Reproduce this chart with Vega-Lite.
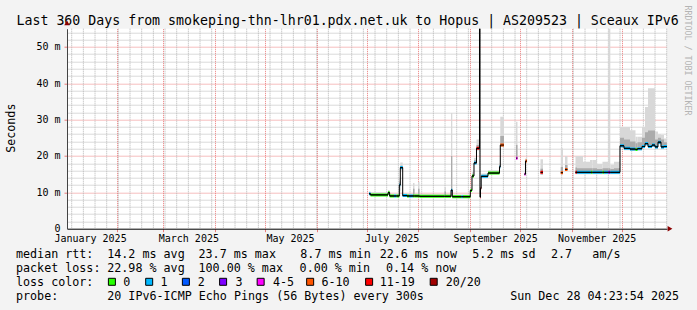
{
  "$schema": "https://vega.github.io/schema/vega-lite/v6.json",
  "width": 600,
  "height": 200,
  "autosize": "none",
  "padding": {"left": 67, "top": 28.7, "right": 30, "bottom": 81.3},
  "background": "#f3f3f3",
  "config": {
    "font": "DejaVu Sans Mono",
    "view": {"fill": "#ffffff", "stroke": null},
    "axis": {"labelFont": "DejaVu Sans Mono", "titleFont": "DejaVu Sans Mono", "labelColor": "#000000", "titleColor": "#000000", "titleFontWeight": "normal"}
  },
  "datasets": {
    "weeks": [
      {"w": "2025-01-05T00:00"}, {"w": "2025-01-12T00:00"}, {"w": "2025-01-19T00:00"}, {"w": "2025-01-26T00:00"},
      {"w": "2025-02-02T00:00"}, {"w": "2025-02-09T00:00"}, {"w": "2025-02-16T00:00"}, {"w": "2025-02-23T00:00"},
      {"w": "2025-03-02T00:00"}, {"w": "2025-03-09T00:00"}, {"w": "2025-03-16T00:00"}, {"w": "2025-03-23T00:00"}, {"w": "2025-03-30T00:00"},
      {"w": "2025-04-06T00:00"}, {"w": "2025-04-13T00:00"}, {"w": "2025-04-20T00:00"}, {"w": "2025-04-27T00:00"},
      {"w": "2025-05-04T00:00"}, {"w": "2025-05-11T00:00"}, {"w": "2025-05-18T00:00"}, {"w": "2025-05-25T00:00"},
      {"w": "2025-06-01T00:00"}, {"w": "2025-06-08T00:00"}, {"w": "2025-06-15T00:00"}, {"w": "2025-06-22T00:00"}, {"w": "2025-06-29T00:00"},
      {"w": "2025-07-06T00:00"}, {"w": "2025-07-13T00:00"}, {"w": "2025-07-20T00:00"}, {"w": "2025-07-27T00:00"},
      {"w": "2025-08-03T00:00"}, {"w": "2025-08-10T00:00"}, {"w": "2025-08-17T00:00"}, {"w": "2025-08-24T00:00"}, {"w": "2025-08-31T00:00"},
      {"w": "2025-09-07T00:00"}, {"w": "2025-09-14T00:00"}, {"w": "2025-09-21T00:00"}, {"w": "2025-09-28T00:00"},
      {"w": "2025-10-05T00:00"}, {"w": "2025-10-12T00:00"}, {"w": "2025-10-19T00:00"}, {"w": "2025-10-26T00:00"},
      {"w": "2025-11-02T00:00"}, {"w": "2025-11-09T00:00"}, {"w": "2025-11-16T00:00"}, {"w": "2025-11-23T00:00"}, {"w": "2025-11-30T00:00"},
      {"w": "2025-12-07T00:00"}, {"w": "2025-12-14T00:00"}, {"w": "2025-12-21T00:00"}, {"w": "2025-12-28T00:00"}
    ],
    "bins": [
      {"t": "2025-07-02T09:00", "t2": "2025-07-03T07:00", "med": 9.6, "lo": 9.2, "mlo": 9.3, "mhi": 9.9, "hi": 10.2, "loss": "1", "seg": "A"},
      {"t": "2025-07-03T07:00", "t2": "2025-07-13T19:00", "med": 9.3, "lo": 9.0, "mlo": 9.1, "mhi": 9.6, "hi": 10.0, "loss": "0", "seg": "A"},
      {"t": "2025-07-13T19:00", "t2": "2025-07-14T18:00", "med": 9.9, "lo": 9.3, "mlo": 9.5, "mhi": 10.3, "hi": 10.6, "loss": "0", "seg": "A"},
      {"t": "2025-07-14T18:00", "t2": "2025-07-17T09:00", "med": 9.0, "lo": 8.8, "mlo": 8.9, "mhi": 9.3, "hi": 9.6, "loss": "0", "seg": "A"},
      {"t": "2025-07-17T09:00", "t2": "2025-07-18T21:00", "med": 9.0, "lo": 8.8, "mlo": 8.9, "mhi": 9.3, "hi": 9.6, "loss": "1", "seg": "A"},
      {"t": "2025-07-18T21:00", "t2": "2025-07-20T13:30", "med": 9.0, "lo": 8.8, "mlo": 8.9, "mhi": 9.3, "hi": 9.6, "loss": "0", "seg": "A"},
      {"t": "2025-07-20T13:30", "t2": "2025-07-21T04:00", "med": 12.0, "lo": 9.0, "mlo": 10.5, "mhi": 13.0, "hi": 14.0, "loss": "1", "seg": "A"},
      {"t": "2025-07-21T04:00", "t2": "2025-07-22T14:30", "med": 16.8, "lo": 16.0, "mlo": 16.4, "mhi": 17.3, "hi": 18.2, "loss": "1", "seg": "A"},
      {"t": "2025-07-22T14:30", "t2": "2025-07-25T04:20", "med": 9.1, "lo": 8.8, "mlo": 8.9, "mhi": 9.4, "hi": 9.8, "loss": "1", "seg": "A"},
      {"t": "2025-07-25T04:20", "t2": "2025-07-26T09:00", "med": 9.0, "lo": 8.7, "mlo": 8.8, "mhi": 9.3, "hi": 9.6, "loss": "0", "seg": "A"},
      {"t": "2025-07-26T09:00", "t2": "2025-07-28T19:00", "med": 9.0, "lo": 8.7, "mlo": 8.8, "mhi": 9.3, "hi": 9.6, "loss": "1", "seg": "A"},
      {"t": "2025-07-28T19:00", "t2": "2025-07-29T16:20", "med": 9.0, "lo": 8.7, "mlo": 8.8, "mhi": 11.0, "hi": 12.6, "loss": "0", "seg": "A"},
      {"t": "2025-07-29T16:20", "t2": "2025-07-31T19:00", "med": 9.0, "lo": 8.7, "mlo": 8.8, "mhi": 9.3, "hi": 9.6, "loss": "0", "seg": "A"},
      {"t": "2025-07-31T19:00", "t2": "2025-08-01T16:20", "med": 9.0, "lo": 8.7, "mlo": 8.8, "mhi": 11.0, "hi": 12.9, "loss": "0", "seg": "A"},
      {"t": "2025-08-01T16:20", "t2": "2025-08-16T16:20", "med": 8.9, "lo": 8.6, "mlo": 8.7, "mhi": 9.2, "hi": 9.5, "loss": "0", "seg": "A"},
      {"t": "2025-08-16T16:20", "t2": "2025-08-17T14:00", "med": 8.9, "lo": 8.6, "mlo": 8.7, "mhi": 10.2, "hi": 11.5, "loss": "0", "seg": "A"},
      {"t": "2025-08-17T14:00", "t2": "2025-08-20T14:00", "med": 8.9, "lo": 8.6, "mlo": 8.7, "mhi": 9.2, "hi": 9.5, "loss": "0", "seg": "A"},
      {"t": "2025-08-20T14:00", "t2": "2025-08-21T08:40", "med": 10.6, "lo": 8.8, "mlo": 8.8, "mhi": 20.0, "hi": 31.8, "loss": "1", "seg": "A"},
      {"t": "2025-08-21T08:40", "t2": "2025-08-26T21:00", "med": 8.8, "lo": 8.5, "mlo": 8.6, "mhi": 9.1, "hi": 9.4, "loss": "0", "seg": "A"},
      {"t": "2025-08-26T21:00", "t2": "2025-08-27T19:00", "med": 8.8, "lo": 8.5, "mlo": 8.6, "mhi": 9.1, "hi": 9.4, "loss": "1", "seg": "A"},
      {"t": "2025-08-27T19:00", "t2": "2025-09-01T04:00", "med": 8.8, "lo": 8.5, "mlo": 8.6, "mhi": 9.1, "hi": 9.4, "loss": "0", "seg": "A"},
      {"t": "2025-09-01T04:00", "t2": "2025-09-02T04:20", "med": 10.5, "lo": 10.0, "mlo": 10.2, "mhi": 10.9, "hi": 11.3, "loss": "0", "seg": "A"},
      {"t": "2025-09-02T04:20", "t2": "2025-09-03T09:00", "med": 14.5, "lo": 14.0, "mlo": 14.2, "mhi": 15.0, "hi": 15.5, "loss": "0", "seg": "A"},
      {"t": "2025-09-03T09:00", "t2": "2025-09-04T21:00", "med": 18.1, "lo": 17.5, "mlo": 17.8, "mhi": 18.8, "hi": 19.5, "loss": "1", "seg": "A"},
      {"t": "2025-09-04T21:00", "t2": "2025-09-06T16:20", "med": 22.1, "lo": 21.5, "mlo": 21.8, "mhi": 23.0, "hi": 24.5, "loss": "11-19", "seg": "A"},
      {"t": "2025-09-06T16:20", "t2": "2025-09-06T23:30", "med": 58, "lo": 8.7, "mlo": 8.7, "mhi": 8.7, "hi": 8.7, "loss": "20/20", "seg": "A"},
      {"t": "2025-09-06T23:30", "t2": "2025-09-07T06:40", "med": 8.7, "lo": 8.5, "mlo": 8.6, "mhi": 8.9, "hi": 9.0, "loss": "11-19", "seg": "A"},
      {"t": "2025-09-07T06:40", "t2": "2025-09-07T16:50", "med": 11.1, "lo": 10.8, "mlo": 10.9, "mhi": 11.4, "hi": 11.6, "loss": "11-19", "seg": "A"},
      {"t": "2025-09-07T16:50", "t2": "2025-09-11T18:40", "med": 14.4, "lo": 14.0, "mlo": 14.2, "mhi": 14.8, "hi": 15.2, "loss": "1", "seg": "A"},
      {"t": "2025-09-11T18:40", "t2": "2025-09-18T16:20", "med": 15.3, "lo": 15.0, "mlo": 15.1, "mhi": 15.7, "hi": 16.1, "loss": "0", "seg": "A"},
      {"t": "2025-09-18T16:20", "t2": "2025-09-19T03:50", "med": 17.0, "lo": 16.5, "mlo": 16.8, "mhi": 17.5, "hi": 18.0, "loss": "1", "seg": "A"},
      {"t": "2025-09-19T03:50", "t2": "2025-09-21T09:00", "med": 23.0, "lo": 22.5, "mlo": 22.6, "mhi": 25.5, "hi": 30.8, "loss": "6-10", "seg": "A"},
      {"t": "2025-09-28T14:00", "t2": "2025-09-29T11:30", "med": 19.4, "lo": 19.2, "mlo": 19.3, "mhi": 23.0, "hi": 29.4, "loss": "4-5", "seg": "B"},
      {"t": "2025-10-03T16:20", "t2": "2025-10-04T06:40", "med": 15.0, "lo": 14.8, "mlo": 14.9, "mhi": 15.2, "hi": 15.4, "loss": "4-5", "seg": "C"},
      {"t": "2025-10-04T06:40", "t2": "2025-10-05T04:20", "med": 18.6, "lo": 18.4, "mlo": 18.5, "mhi": 19.0, "hi": 19.4, "loss": "6-10", "seg": "C"},
      {"t": "2025-10-13T06:40", "t2": "2025-10-14T18:40", "med": 15.5, "lo": 14.8, "mlo": 15.0, "mhi": 16.5, "hi": 19.1, "loss": "11-19", "seg": "D"},
      {"t": "2025-10-25T11:00", "t2": "2025-10-26T18:40", "med": 15.4, "lo": 15.0, "mlo": 15.1, "mhi": 17.0, "hi": 22.1, "loss": "6-10", "seg": "E"},
      {"t": "2025-10-27T23:30", "t2": "2025-10-29T11:30", "med": 16.3, "lo": 16.1, "mlo": 16.2, "mhi": 17.5, "hi": 20.0, "loss": "6-10", "seg": "F"},
      {"t": "2025-11-03T06:40", "t2": "2025-11-04T04:20", "med": 15.5, "lo": 15.0, "mlo": 15.1, "mhi": 16.8, "hi": 20.0, "loss": "11-19", "seg": "G"},
      {"t": "2025-11-04T04:20", "t2": "2025-11-07T18:40", "med": 15.5, "lo": 15.0, "mlo": 15.1, "mhi": 16.6, "hi": 20.0, "loss": "1", "seg": "G"},
      {"t": "2025-11-07T18:40", "t2": "2025-11-11T23:30", "med": 15.5, "lo": 15.0, "mlo": 15.1, "mhi": 16.6, "hi": 18.4, "loss": "1", "seg": "G"},
      {"t": "2025-11-11T23:30", "t2": "2025-11-12T14:00", "med": 15.5, "lo": 15.0, "mlo": 15.1, "mhi": 16.6, "hi": 18.9, "loss": "1", "seg": "G"},
      {"t": "2025-11-12T14:00", "t2": "2025-11-13T11:30", "med": 15.5, "lo": 15.0, "mlo": 15.1, "mhi": 16.6, "hi": 18.9, "loss": "0", "seg": "G"},
      {"t": "2025-11-13T11:30", "t2": "2025-11-16T04:20", "med": 15.5, "lo": 15.0, "mlo": 15.1, "mhi": 16.6, "hi": 18.9, "loss": "1", "seg": "G"},
      {"t": "2025-11-16T04:20", "t2": "2025-11-19T11:30", "med": 15.5, "lo": 15.0, "mlo": 15.1, "mhi": 16.4, "hi": 17.8, "loss": "1", "seg": "G"},
      {"t": "2025-11-19T11:30", "t2": "2025-11-20T09:00", "med": 15.5, "lo": 15.0, "mlo": 15.1, "mhi": 16.6, "hi": 18.4, "loss": "0", "seg": "G"},
      {"t": "2025-11-20T09:00", "t2": "2025-11-22T23:00", "med": 15.5, "lo": 15.0, "mlo": 15.1, "mhi": 16.6, "hi": 18.4, "loss": "1", "seg": "G"},
      {"t": "2025-11-22T23:00", "t2": "2025-11-24T04:00", "med": 15.5, "lo": 15.0, "mlo": 15.1, "mhi": 16.6, "hi": 56, "loss": "3", "seg": "G"},
      {"t": "2025-11-24T04:00", "t2": "2025-11-26T09:00", "med": 15.5, "lo": 15.0, "mlo": 15.1, "mhi": 16.4, "hi": 17.5, "loss": "1", "seg": "G"},
      {"t": "2025-11-26T09:00", "t2": "2025-11-29T23:30", "med": 15.5, "lo": 15.0, "mlo": 15.1, "mhi": 16.6, "hi": 18.4, "loss": "1", "seg": "G"},
      {"t": "2025-11-29T23:30", "t2": "2025-12-02T09:00", "med": 22.8, "lo": 22.3, "mlo": 22.4, "mhi": 25.0, "hi": 28.0, "loss": "1", "seg": "G"},
      {"t": "2025-12-02T09:00", "t2": "2025-12-05T23:30", "med": 22.1, "lo": 21.6, "mlo": 21.7, "mhi": 24.5, "hi": 28.0, "loss": "1", "seg": "G"},
      {"t": "2025-12-05T23:30", "t2": "2025-12-09T06:40", "med": 21.9, "lo": 21.4, "mlo": 21.5, "mhi": 24.0, "hi": 27.1, "loss": "1", "seg": "G"},
      {"t": "2025-12-09T06:40", "t2": "2025-12-10T11:30", "med": 21.8, "lo": 21.4, "mlo": 21.5, "mhi": 23.5, "hi": 25.3, "loss": "0", "seg": "G"},
      {"t": "2025-12-10T11:30", "t2": "2025-12-13T04:20", "med": 22.0, "lo": 21.6, "mlo": 21.7, "mhi": 23.8, "hi": 25.3, "loss": "1", "seg": "G"},
      {"t": "2025-12-13T04:20", "t2": "2025-12-14T23:30", "med": 22.6, "lo": 22.1, "mlo": 22.2, "mhi": 25.0, "hi": 28.0, "loss": "1", "seg": "G"},
      {"t": "2025-12-14T23:30", "t2": "2025-12-16T18:40", "med": 23.4, "lo": 22.8, "mlo": 23.0, "mhi": 26.5, "hi": 33.5, "loss": "1", "seg": "G"},
      {"t": "2025-12-16T18:40", "t2": "2025-12-19T04:20", "med": 22.6, "lo": 22.1, "mlo": 22.2, "mhi": 27.0, "hi": 38.6, "loss": "1", "seg": "G"},
      {"t": "2025-12-19T04:20", "t2": "2025-12-20T23:30", "med": 23.0, "lo": 22.5, "mlo": 22.6, "mhi": 27.0, "hi": 38.6, "loss": "1", "seg": "G"},
      {"t": "2025-12-20T23:30", "t2": "2025-12-22T18:40", "med": 22.5, "lo": 22.0, "mlo": 22.1, "mhi": 24.5, "hi": 26.7, "loss": "1", "seg": "G"},
      {"t": "2025-12-22T18:40", "t2": "2025-12-24T14:00", "med": 23.8, "lo": 23.2, "mlo": 23.3, "mhi": 25.0, "hi": 26.0, "loss": "1", "seg": "G"},
      {"t": "2025-12-24T14:00", "t2": "2025-12-26T09:00", "med": 22.5, "lo": 22.0, "mlo": 22.1, "mhi": 24.5, "hi": 25.8, "loss": "1", "seg": "G"},
      {"t": "2025-12-26T09:00", "t2": "2025-12-28T04:20", "med": 22.6, "lo": 22.2, "mlo": 22.3, "mhi": 23.8, "hi": 24.8, "loss": "1", "seg": "G"}
    ],
    "info": [
      {"row": 1, "col": 0, "text": "median rtt:"},
      {"row": 1, "col": 13, "text": "14.2 ms avg"},
      {"row": 1, "col": 26, "text": "23.7 ms max"},
      {"row": 1, "col": 40.5, "text": "8.7 ms min"},
      {"row": 1, "col": 51.8, "text": "22.6 ms now"},
      {"row": 1, "col": 65, "text": "5.2 ms sd"},
      {"row": 1, "col": 76.2, "text": "2.7"},
      {"row": 1, "col": 82.1, "text": "am/s"},
      {"row": 2, "col": 0, "text": "packet loss:"},
      {"row": 2, "col": 13, "text": "22.98 % avg"},
      {"row": 2, "col": 26, "text": "100.00 % max"},
      {"row": 2, "col": 40.4, "text": "0.00 % min"},
      {"row": 2, "col": 52.7, "text": "0.14 % now"},
      {"row": 3, "col": 0, "text": "loss color:"},
      {"row": 3, "col": 15.26, "text": "0"},
      {"row": 3, "col": 20.6, "text": "1"},
      {"row": 3, "col": 25.9, "text": "2"},
      {"row": 3, "col": 31.25, "text": "3"},
      {"row": 3, "col": 36.6, "text": "4-5"},
      {"row": 3, "col": 43.5, "text": "6-10"},
      {"row": 3, "col": 51.8, "text": "11-19"},
      {"row": 3, "col": 61.2, "text": "20/20"},
      {"row": 4, "col": 0, "text": "probe:"},
      {"row": 4, "col": 13, "text": "20 IPv6-ICMP Echo Pings (56 Bytes) every 300s"}
    ],
    "infoRight": [
      {"row": 4, "col": 94.45, "text": "Sun Dec 28 04:23:54 2025"}
    ],
    "lossKey": [
      {"row": 3, "col": 13.66, "loss": "0"},
      {"row": 3, "col": 18.97, "loss": "1"},
      {"row": 3, "col": 24.2, "loss": "2"},
      {"row": 3, "col": 29.5, "loss": "3"},
      {"row": 3, "col": 34.85, "loss": "4-5"},
      {"row": 3, "col": 41.9, "loss": "6-10"},
      {"row": 3, "col": 50.3, "loss": "11-19"},
      {"row": 3, "col": 59.5, "loss": "20/20"}
    ]
  },
  "resolve": {"scale": {"x": "independent", "y": "independent"}},
  "layer": [
    {
      "data": {"name": "weeks"},
      "mark": {"type": "rule", "color": "#b4b4b4", "strokeWidth": 1, "strokeDash": [1, 1]},
      "encoding": {
        "x": {"field": "w", "type": "temporal",
              "scale": {"domain": [{"year": 2025, "month": 1, "date": 2, "hours": 4, "minutes": 23, "seconds": 54}, {"year": 2025, "month": 12, "date": 28, "hours": 4, "minutes": 23, "seconds": 54}], "nice": false},
              "axis": null}
      }
    },
    {
      "data": {"name": "bins"},
      "mark": {"type": "rect", "color": "#d8d8d8", "clip": true},
      "encoding": {
        "x": {"field": "t", "type": "temporal",
              "scale": {"domain": [{"year": 2025, "month": 1, "date": 2, "hours": 4, "minutes": 23, "seconds": 54}, {"year": 2025, "month": 12, "date": 28, "hours": 4, "minutes": 23, "seconds": 54}], "nice": false},
              "axis": null},
        "x2": {"field": "t2"},
        "y": {"field": "lo", "type": "quantitative",
              "scale": {"domain": [0, 55], "nice": false, "zero": false},
              "axis": {"orient": "left", "values": [2, 4, 6, 8, 12, 14, 16, 18, 22, 24, 26, 28, 32, 34, 36, 38, 42, 44, 46, 48, 52, 54], "grid": true, "gridColor": "#b4b4b4", "gridDash": [1, 1], "labels": false, "ticks": false, "domain": false, "title": null}},
        "y2": {"field": "hi"}
      }
    },
    {
      "data": {"name": "bins"},
      "mark": {"type": "rect", "color": "#ababab", "clip": true},
      "encoding": {
        "x": {"field": "t", "type": "temporal",
              "scale": {"domain": [{"year": 2025, "month": 1, "date": 2, "hours": 4, "minutes": 23, "seconds": 54}, {"year": 2025, "month": 12, "date": 28, "hours": 4, "minutes": 23, "seconds": 54}], "nice": false},
              "axis": {"orient": "bottom",
                       "values": [
                         {"year": 2025, "month": 2, "date": 1}, {"year": 2025, "month": 3, "date": 1}, {"year": 2025, "month": 4, "date": 1}, {"year": 2025, "month": 5, "date": 1},
                         {"year": 2025, "month": 6, "date": 1}, {"year": 2025, "month": 7, "date": 1}, {"year": 2025, "month": 8, "date": 1}, {"year": 2025, "month": 9, "date": 1},
                         {"year": 2025, "month": 10, "date": 1}, {"year": 2025, "month": 11, "date": 1}, {"year": 2025, "month": 12, "date": 1}
                       ],
                       "grid": true, "gridColor": "#ec7c7c", "gridDash": [1, 1], "labels": false, "ticks": true, "tickSize": 3, "tickColor": "#ec7c7c", "domain": false, "title": null}},
        "x2": {"field": "t2"},
        "y": {"field": "mlo", "type": "quantitative",
              "scale": {"domain": [0, 55], "nice": false, "zero": false},
              "axis": {"orient": "left", "values": [10, 20, 30, 40, 50], "grid": true, "gridColor": "#ec7c7c", "gridDash": [1, 1], "labels": false, "ticks": true, "tickSize": 3, "tickColor": "#ec7c7c", "domain": false, "title": null}},
        "y2": {"field": "mhi"}
      }
    },
    {
      "data": {"name": "bins"},
      "mark": {"type": "rule", "strokeWidth": 3, "strokeCap": "butt", "clip": true},
      "encoding": {
        "x": {"field": "t", "type": "temporal",
              "scale": {"domain": [{"year": 2025, "month": 1, "date": 2, "hours": 4, "minutes": 23, "seconds": 54}, {"year": 2025, "month": 12, "date": 28, "hours": 4, "minutes": 23, "seconds": 54}], "nice": false},
              "axis": {"orient": "bottom", "values": [{"year": 2025, "month": 1, "date": 16}, {"year": 2025, "month": 3, "date": 16}, {"year": 2025, "month": 5, "date": 16}, {"year": 2025, "month": 7, "date": 16}, {"year": 2025, "month": 9, "date": 16}, {"year": 2025, "month": 11, "date": 16}],
                       "format": "%B %Y", "formatType": "time", "grid": false, "ticks": false, "domain": true, "domainColor": "#000000", "domainWidth": 1,
                       "labelPadding": 12.3, "labelBaseline": "alphabetic", "labelFontSize": 10, "labelFlush": false, "labelOverlap": false, "title": null}},
        "x2": {"field": "t2"},
        "y": {"field": "med", "type": "quantitative",
              "scale": {"domain": [0, 55], "nice": false, "zero": false},
              "axis": {"orient": "left", "values": [0, 10, 20, 30, 40, 50], "labelExpr": "datum.value == 0 ? '0\u00a0\u00a0' : datum.value + ' m'",
                       "grid": false, "ticks": false, "domain": true, "domainColor": "#444444", "labelPadding": 7, "labelFontSize": 10, "labelBaseline": "middle",
                       "title": "Seconds", "titleFontSize": 11.7, "titleX": -57, "titleY": 99, "titleAngle": 270, "titleAlign": "center", "titleBaseline": "middle"}},
        "color": {"field": "loss", "type": "nominal",
                  "scale": {"domain": ["0", "1", "2", "3", "4-5", "6-10", "11-19", "20/20"], "range": ["#26ff00", "#00b8ff", "#0059ff", "#7e00ff", "#ff00ff", "#ff5500", "#ff0000", "#a10000"]},
                  "legend": null}
      }
    },
    {
      "data": {"name": "bins"},
      "mark": {"type": "line", "interpolate": "step-after", "color": "#000000", "strokeWidth": 1, "clip": true},
      "encoding": {
        "x": {"field": "t", "type": "temporal",
              "scale": {"domain": [{"year": 2025, "month": 1, "date": 2, "hours": 4, "minutes": 23, "seconds": 54}, {"year": 2025, "month": 12, "date": 28, "hours": 4, "minutes": 23, "seconds": 54}], "nice": false},
              "axis": {"orient": "top", "labels": false, "ticks": false, "domain": false, "grid": false,
                       "title": "Last 360 Days from smokeping-thn-lhr01.pdx.net.uk to Hopus | AS209523 | Sceaux IPv6",
                       "titleFontSize": 13.25, "titleColor": "#000000", "titleX": -51, "titleY": -4.7, "titleAlign": "left", "titleBaseline": "alphabetic", "titleAngle": 0}},
        "y": {"field": "med", "type": "quantitative",
              "scale": {"domain": [0, 55], "nice": false, "zero": false},
              "axis": {"orient": "right", "labels": false, "ticks": false, "domain": false, "grid": false,
                       "title": "RRDTOOL / TOBI OETIKER", "titleFontSize": 8.3, "titleColor": "#b4b4b4", "titleAngle": 90, "titleX": 19.7, "titleY": -23.7, "titleAlign": "left", "titleBaseline": "middle"}},
        "detail": {"field": "seg", "type": "nominal"}
      }
    },
    {
      "data": {"name": "bins"},
      "mark": {"type": "rule", "color": "#000000", "strokeWidth": 1, "strokeCap": "butt", "clip": true},
      "encoding": {
        "x": {"field": "t", "type": "temporal",
              "scale": {"domain": [{"year": 2025, "month": 1, "date": 2, "hours": 4, "minutes": 23, "seconds": 54}, {"year": 2025, "month": 12, "date": 28, "hours": 4, "minutes": 23, "seconds": 54}], "nice": false},
              "axis": null},
        "x2": {"field": "t2"},
        "y": {"field": "med", "type": "quantitative",
              "scale": {"domain": [0, 55], "nice": false, "zero": false}, "axis": null}
      }
    },
    {
      "data": {"values": [{"end": "x"}]},
      "mark": {"type": "point", "shape": "triangle-right", "filled": true, "color": "#8b0000", "size": 30, "opacity": 1},
      "encoding": {
        "x": {"datum": {"year": 2025, "month": 12, "date": 30}, "type": "temporal",
              "scale": {"domain": [{"year": 2025, "month": 1, "date": 2, "hours": 4, "minutes": 23, "seconds": 54}, {"year": 2025, "month": 12, "date": 28, "hours": 4, "minutes": 23, "seconds": 54}], "nice": false}, "axis": null},
        "y": {"datum": 0, "type": "quantitative", "scale": {"domain": [0, 55], "nice": false, "zero": false}, "axis": null}
      }
    },
    {
      "data": {"values": [{"end": "y"}]},
      "mark": {"type": "point", "shape": "triangle-up", "filled": true, "color": "#8b0000", "size": 30, "opacity": 1},
      "encoding": {
        "x": {"datum": {"year": 2025, "month": 1, "date": 2, "hours": 4, "minutes": 23, "seconds": 54}, "type": "temporal",
              "scale": {"domain": [{"year": 2025, "month": 1, "date": 2, "hours": 4, "minutes": 23, "seconds": 54}, {"year": 2025, "month": 12, "date": 28, "hours": 4, "minutes": 23, "seconds": 54}], "nice": false}, "axis": null},
        "y": {"datum": 56.6, "type": "quantitative", "scale": {"domain": [0, 55], "nice": false, "zero": false}, "axis": null}
      }
    },
    {
      "data": {"name": "info"},
      "mark": {"type": "text", "align": "left", "baseline": "alphabetic", "font": "DejaVu Sans Mono", "fontSize": 11.7, "color": "#000000"},
      "encoding": {
        "x": {"field": "col", "type": "quantitative", "scale": {"domain": [0, 94], "range": [-51, 608.9], "nice": false, "zero": false}, "axis": null},
        "y": {"field": "row", "type": "quantitative", "scale": {"domain": [1, 4], "range": [229.6, 271.6], "nice": false, "zero": false}, "axis": null},
        "text": {"field": "text", "type": "nominal"}
      }
    },
    {
      "data": {"name": "infoRight"},
      "mark": {"type": "text", "align": "right", "baseline": "alphabetic", "font": "DejaVu Sans Mono", "fontSize": 11.7, "color": "#000000"},
      "encoding": {
        "x": {"field": "col", "type": "quantitative", "scale": {"domain": [0, 94], "range": [-51, 608.9], "nice": false, "zero": false}, "axis": null},
        "y": {"field": "row", "type": "quantitative", "scale": {"domain": [1, 4], "range": [229.6, 271.6], "nice": false, "zero": false}, "axis": null},
        "text": {"field": "text", "type": "nominal"}
      }
    },
    {
      "data": {"name": "lossKey"},
      "mark": {"type": "point", "shape": "square", "filled": true, "size": 49, "stroke": "#000000", "strokeWidth": 1, "opacity": 1, "yOffset": -4.5},
      "encoding": {
        "x": {"field": "col", "type": "quantitative", "scale": {"domain": [0, 94], "range": [-51, 608.9], "nice": false, "zero": false}, "axis": null},
        "y": {"field": "row", "type": "quantitative", "scale": {"domain": [1, 4], "range": [229.6, 271.6], "nice": false, "zero": false}, "axis": null},
        "color": {"field": "loss", "type": "nominal",
                  "scale": {"domain": ["0", "1", "2", "3", "4-5", "6-10", "11-19", "20/20"], "range": ["#26ff00", "#00b8ff", "#0059ff", "#7e00ff", "#ff00ff", "#ff5500", "#ff0000", "#a10000"]},
                  "legend": null}
      }
    }
  ]
}
